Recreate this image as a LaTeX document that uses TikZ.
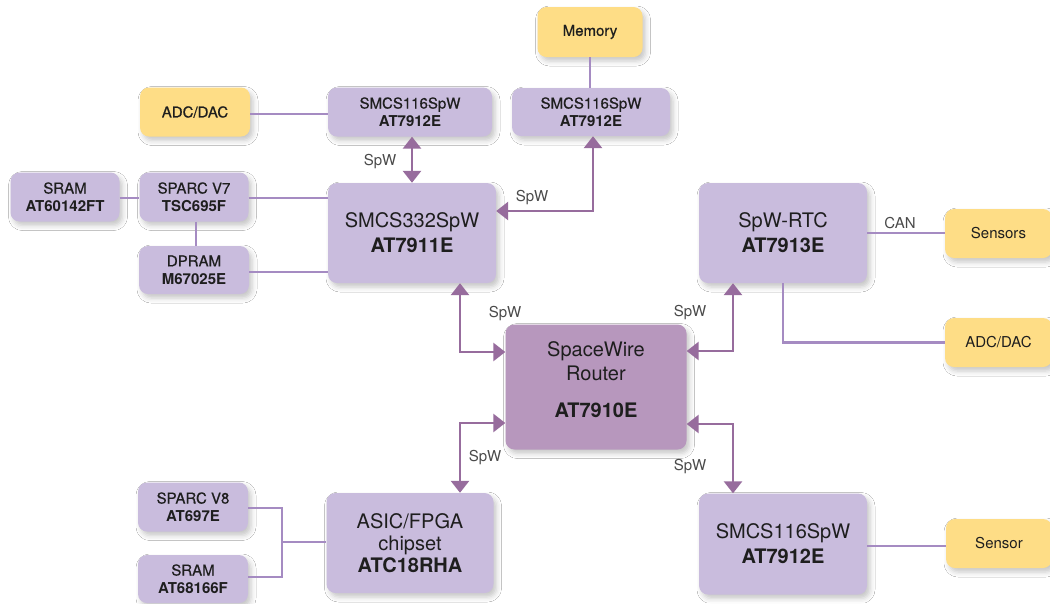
\documentclass[tikz,border=0pt]{standalone}
\usepackage{fontspec}
\setmainfont{TeX Gyre Heros}
\newfontfamily\medfont[FakeBold=0.6]{TeX Gyre Heros}
\usetikzlibrary{arrows.meta,shadows.blur}
\definecolor{boxc}{HTML}{C9BCDD}
\definecolor{routc}{HTML}{B797BD}
\definecolor{yelc}{HTML}{FEDD86}
\definecolor{linec}{HTML}{A58BC2}
\definecolor{arrc}{HTML}{976C9D}
\definecolor{txtc}{HTML}{1E1E1E}
\definecolor{lblc}{HTML}{4A4A4A}
\tikzset{
  base/.style={rounded corners=9pt, inner sep=0pt, align=center, text=txtc,
    blur shadow={shadow xshift=3pt, shadow yshift=-4pt, shadow blur radius=5pt, shadow opacity=22}},
  pbox/.style={base, fill=boxc, font=\fontsize{15}{18}\selectfont},
  bigbox/.style={base, fill=boxc, font=\fontsize{20}{25}\selectfont},
  ybox/.style={base, fill=yelc, font=\fontsize{15}{18}\selectfont},
  rbox/.style={base, fill=routc},
  rtext/.style={inner sep=0pt, align=center, text=txtc, font=\fontsize{20}{24}\selectfont},
  conn/.style={draw=linec, line width=2.2pt},
  arr/.style={draw=arrc, line width=2.8pt, {Triangle[width=18pt,length=12pt]}-{Triangle[width=18pt,length=12pt]}},
  lbl/.style={text=lblc, font=\fontsize{15}{18}\selectfont, inner sep=0pt}
}
\begin{document}
\begin{tikzpicture}[x=1pt,y=-1pt]
\useasboundingbox (0,0) rectangle (1050,603);
\clip (0,0) rectangle (1050,603);
\fill[white] (0,0) rectangle (1050,603);
% nodes
\node[ybox, minimum width=105pt, minimum height=50pt] (mem) at (590,32) {\medfont Memory};
\node[pbox, minimum width=158pt, minimum height=48pt] (s116r) at (591,112) {{\medfont SMCS116SpW}\\\textbf{AT7912E}};
\node[pbox, minimum width=164pt, minimum height=49pt] (s116l) at (410,112) {{\medfont SMCS116SpW}\\\textbf{AT7912E}};
\node[ybox, minimum width=110pt, minimum height=49pt] (adc1) at (195,112) {\medfont ADC/DAC};
\node[pbox, minimum width=109pt, minimum height=49pt] (sram1) at (65,197) {{\medfont SRAM}\\\textbf{AT60142FT}};
\node[pbox, minimum width=109pt, minimum height=49pt] (sparc7) at (194,197) {{\medfont SPARC V7}\\\textbf{TSC695F}};
\node[pbox, minimum width=110pt, minimum height=48pt] (dpram) at (194,270) {{\medfont DPRAM}\\\textbf{M67025E}};
\node[bigbox, minimum width=168pt, minimum height=100pt] (s332) at (412,233) {SMCS332SpW\\\textbf{AT7911E}};
\node[bigbox, minimum width=168pt, minimum height=100pt] (rtc) at (783,233) {SpW-RTC\\\textbf{AT7913E}};
\node[ybox, minimum width=107pt, minimum height=49pt] (sensors) at (998.5,233.5) {Sensors};
\node[ybox, minimum width=107pt, minimum height=49pt] (adc2) at (998.5,342.5) {ADC/DAC};
\node[rbox, minimum width=181pt, minimum height=125pt] (router) at (596,387) {};
\node[rtext] (routertxt) at (596,380) {SpaceWire\\Router\\[13pt]\textbf{AT7910E}};
\node[bigbox, minimum width=167pt, minimum height=100pt, font=\fontsize{20}{22}\selectfont] (asic) at (410,543) {ASIC/FPGA\\chipset\\\textbf{ATC18RHA}};
\node[pbox, minimum width=110pt, minimum height=49pt] (sparc8) at (193,507) {{\medfont SPARC V8}\\\textbf{AT697E}};
\node[pbox, minimum width=110pt, minimum height=48pt] (sram2) at (193,579) {{\medfont SRAM}\\\textbf{AT68166F}};
\node[bigbox, minimum width=168pt, minimum height=101pt] (s116b) at (783,544) {SMCS116SpW\\\textbf{AT7912E}};
\node[ybox, minimum width=106pt, minimum height=49pt] (sensor) at (999,543.5) {Sensor};
% plain connectors
\draw[conn] (mem.south) -- (s116r.north -| mem.south);
\draw[conn] ([yshift=-2pt]adc1.east) -- ([yshift=-2pt]adc1.east -| s116l.west);
\draw[conn] ([yshift=-1pt]sram1.east) -- ([yshift=-1pt]sparc7.west);
\draw[conn] ([yshift=-1pt]sparc7.east) -- ([yshift=-1pt]sparc7.east -| s332.west);
\draw[conn] ([xshift=2pt]sparc7.south) -- ([xshift=2pt]dpram.north);
\draw[conn] ([yshift=-2pt]dpram.east) -- ([yshift=-2pt]dpram.east -| s332.west);
\draw[conn] (rtc.east) -- (rtc.east -| sensors.west);
\draw[conn] (rtc.south) |- (adc2.west);
\draw[conn] ([yshift=-2pt]s116b.east) -- ([yshift=-2pt]s116b.east -| sensor.west);
\coordinate (j) at (282,542);
\coordinate (v8e) at ([yshift=-1pt]sparc8.east);
\coordinate (s2e) at ([yshift=2pt]sram2.east);
\draw[conn] (v8e) -| (j |- s2e) -- (s2e);
\draw[conn] (j) -- (j -| asic.west);
% SpW links
\draw[arr] (s332.north) -- (s332.north |- s116l.south);
\draw[arr] ([yshift=22pt]s332.east) -| ([xshift=2pt]s116r.south);
\draw[arr] ([xshift=48pt]s332.south) |- ([yshift=35pt]router.west);
\draw[arr] ([xshift=-50pt]rtc.south) |- ([yshift=36pt]router.east);
\draw[arr] ([yshift=-36pt]router.west) -| ([xshift=50pt]asic.north);
\draw[arr] ([yshift=-37pt]router.east) -| ([xshift=-50pt]s116b.north);
% labels
\node[lbl] (l1) at (380,162) {SpW};
\node[lbl] (l2) at (532,198) {SpW};
\node[lbl] (l3) at (505,314) {SpW};
\node[lbl] (l4) at (690,313) {SpW};
\node[lbl] (l5) at (485,458) {SpW};
\node[lbl] (l6) at (690,467) {SpW};
\node[lbl] (l7) at (900,223) {CAN};
\end{tikzpicture}
\end{document}
